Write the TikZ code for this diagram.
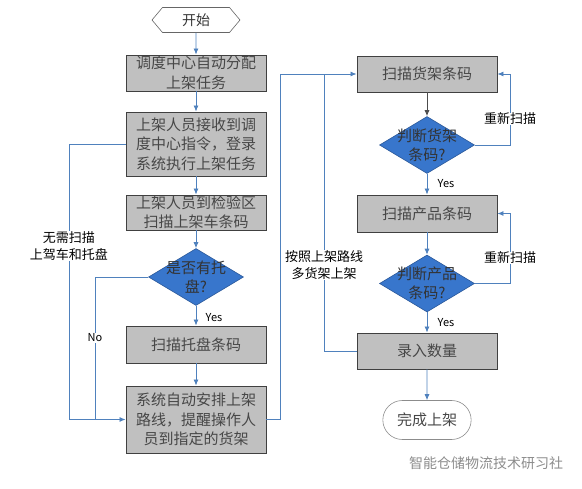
\documentclass[tikz,border=0pt]{standalone}
\usepackage{fontspec}
\setmainfont{Noto Sans CJK SC}
\usetikzlibrary{arrows.meta,positioning,shapes.geometric,shapes.misc,shapes.symbols}
\definecolor{boxgray}{RGB}{192,192,192}
\definecolor{dblue}{RGB}{56,118,204}
\definecolor{lineblue}{RGB}{79,129,189}

\begin{document}
\begin{tikzpicture}[x=1pt,y=-1pt,
  procbox/.style={draw=black!75, fill=boxgray, line width=0.9pt, minimum width=140pt,
    text width=134pt, align=center, font=\fontsize{15}{19.5}\selectfont, text=black!72, inner sep=0pt},
  decide/.style={diamond, draw=dblue!75!black, fill=dblue, line width=0.6pt,
    minimum width=95pt, minimum height=57pt, inner sep=0pt},
  flow/.style={draw=lineblue, line width=0.8pt, -{Latex[length=6pt,width=5pt]}},
  link/.style={draw=lineblue, line width=0.8pt},
  note/.style={fill=white, font=\fontsize{13}{16.5}\selectfont, align=center, inner sep=0.5pt},
  yesno/.style={font=\fontsize{11}{12}\selectfont, inner sep=0.5pt}]
\useasboundingbox (0,0) rectangle (582,489);

% left column
\node[signal, signal to=west and east, signal pointer angle=100, draw=black!60, line width=0.6pt,
  minimum width=88pt, minimum height=25pt, inner sep=0pt, font=\fontsize{14}{16}\selectfont,
  text=black!80] (start) at (196,20) {开始};
\node[procbox, minimum height=36pt] (assign) at (196,73) {调度中心自动分配\\上架任务};
\node[procbox, minimum height=64pt] (receive) at (196,144) {上架人员接收到调\\度中心指令，登录\\系统执行上架任务};
\node[procbox, minimum height=35pt] (cart) at (196,212.5) {上架人员到检验区\\扫描上架车条码};
\node[decide, label={[align=center, font=\fontsize{15}{19}\selectfont, text=black!80]center:是否有托\\盘?}]
  (haspallet) at (196,277) {};
\node[procbox, minimum height=37pt] (pallet) at (196,344.5) {扫描托盘条码};
\node[procbox, minimum height=67pt] (route) at (196,419.5) {系统自动安排上架\\路线，提醒操作人\\员到指定的货架};

% right column
\node[procbox, minimum height=36pt] (shelfscan) at (427,74) {扫描货架条码};
\node[decide, label={[align=center, font=\fontsize{15}{19}\selectfont, text=black!80]center:判断货架\\条码?}]
  (chkshelf) at (427,145) {};
\node[procbox, minimum height=37pt] (prodscan) at (427,213.5) {扫描产品条码};
\node[decide, label={[align=center, font=\fontsize{15}{19}\selectfont, text=black!80]center:判断产品\\条码?}]
  (chkprod) at (427,283.5) {};
\node[procbox, minimum height=36pt] (qty) at (427,351) {录入数量};
\node[rounded rectangle, draw=black!45, line width=0.6pt, minimum width=95pt, minimum height=39pt,
  font=\fontsize{15}{18}\selectfont, text=black!72] (done) at (427,420) {完成上架};

\coordinate (lbend) at (69,0);
\coordinate (nobend) at (95,0);
\coordinate (rbend) at (280,0);
\coordinate (mbend) at (324,0);
\coordinate (loopx) at (510,0);

% connectors
\draw[flow] (start) -- (assign);
\draw[flow] (assign) -- (receive);
\draw[flow] (receive) -- (cart);
\draw[flow] (cart) -- (haspallet);
\draw[flow] (haspallet) -- (pallet);
\draw[flow] (pallet) -- (route);
\draw[flow] (receive.west) -| (lbend |- route.west) -- (route.west);
\draw[link] (haspallet.west) -| (nobend |- route.west);
\draw[flow] (route.east) -| (rbend |- shelfscan.west) -- (shelfscan.west);
\draw[-{Latex[length=6pt,width=5pt]}, draw=black!70, line width=0.8pt] (shelfscan) -- (chkshelf);
\draw[flow] (chkshelf) -- (prodscan);
\draw[flow] (chkshelf.east) -| (loopx |- shelfscan.east) -- (shelfscan.east);
\draw[flow] (prodscan) -- (chkprod);
\draw[flow] (chkprod) -- (qty);
\draw[flow] (chkprod.east) -| (loopx |- prodscan.east) -- (prodscan.east);
\draw[flow] (qty) -- (done);
\draw[link] (qty.west) -| (mbend |- shelfscan.west);

% labels
\node[yesno] (yes1) at (214,318) {Yes};
\node[yesno] (yes2) at (446,184) {Yes};
\node[yesno] (yes3) at (446,323) {Yes};
\node[yesno, fill=white] (no1) at (95,338) {No};
\node[note] (skipcart) at (69,246) {无需扫描\\上驾车和托盘};
\node[note] (rescan1) at (510,119) {重新扫描};
\node[note] (rescan2) at (510,258) {重新扫描};
\node[note] (multi) at (324,265) {按照上架路线\\多货架上架};
\node[font=\fontsize{14}{16}\selectfont, text=black!45] (mark) at (486,463) {智能仓储物流技术研习社};
\end{tikzpicture}
\end{document}
